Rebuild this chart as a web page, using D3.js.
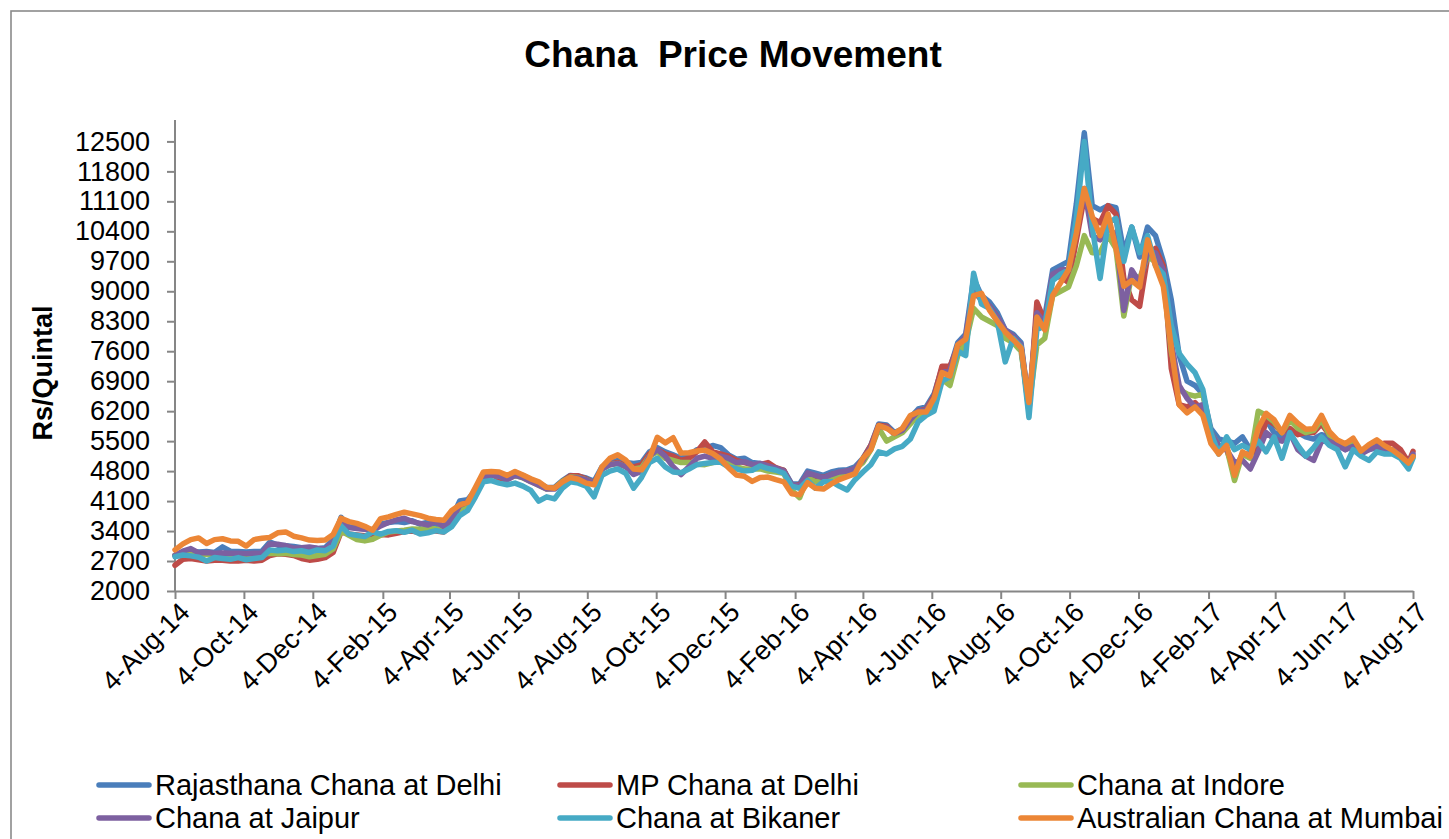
<!DOCTYPE html>
<html>
<head>
<meta charset="utf-8">
<script src="https://cdn.jsdelivr.net/npm/d3@7"></script>
<style>
  body { margin: 0; background: #fff; }
  svg { display: block; }
  text { font-family: "Liberation Sans", Arial, sans-serif; fill: #000; }
</style>
</head>
<body>
<svg id="chart" width="1449" height="839"></svg>
<script>
// ---------- DATA ----------
const seriesNames = ["Rajasthana Chana at Delhi", "MP Chana at Delhi", "Chana at Indore",
                     "Chana at Jaipur", "Chana at Bikaner", "Australian Chana at Mumbai"];
const seriesColors = ["#4A7EBB", "#BE4B48", "#98B954", "#7D60A0", "#46AAC5", "#EC8636"];

// weekly observations from 4-Aug-14, last one 4-Aug-17
const startDate = new Date(2014, 7, 4);
const endDate = new Date(2017, 7, 4);
const weeksCount = 157;

const xTickLabels = ["4-Aug-14","4-Oct-14","4-Dec-14","4-Feb-15","4-Apr-15","4-Jun-15","4-Aug-15",
  "4-Oct-15","4-Dec-15","4-Feb-16","4-Apr-16","4-Jun-16","4-Aug-16","4-Oct-16","4-Dec-16",
  "4-Feb-17","4-Apr-17","4-Jun-17","4-Aug-17"];
const yTicks = [2000,2700,3400,4100,4800,5500,6200,6900,7600,8300,9000,9700,10400,11100,11800,12500];

const rajasthanDelhi = [
  2840,2900,2920,2910,2920,2900,3030,2930,2920,2910,2920,2930,3140,3070,3060,3040,3010,3000,2990,3010,
  3200,3720,3500,3470,3450,3430,3560,3600,3620,3600,3640,3560,3610,3560,3520,3700,4100,4130,
  4350,4700,4760,4720,4650,4740,4700,4600,4520,4420,4420,4580,4700,4680,4640,4560,4900,5000,5050,5000,
  4980,5000,5250,5350,5250,5180,5100,5150,5300,5320,5400,5350,5180,5080,5100,5000,
  4980,4900,4850,4820,4500,4500,4800,4750,4700,4780,4820,4830,4900,5100,5400,5900,5880,5700,5780,6050,
  6250,6300,6600,7200,
  7200,7800,8000,9300,8900,8750,8500,8100,8000,7800,6300,8500,8400,9500,9600,9700,11050,12700,11000,10900,
  11000,10950,9900,10500,9800,10500,10300,9700,8800,7500,6900,6800,
  6600,5800,5550,5500,5450,5600,5300,5400,6000,5700,5600,5700,5700,5600,5550,5650,5600,5450,5300,5400,
  5250,5300,5350,5320,5250,5200,5050,5150];

const mpDelhi = [
  2600,2740,2760,2730,2700,2720,2720,2700,2700,2720,2700,2720,2830,2870,2860,2830,2760,2720,2740,2780,
  2900,3380,3330,3310,3290,3300,3320,3310,3350,3390,3400,3360,3420,3400,3380,3550,3960,4050,
  4380,4680,4740,4620,4600,4700,4680,4580,4500,4400,4400,4560,4690,4690,4620,4520,4860,4960,5000,4930,
  4900,4950,5200,5300,5200,5150,5050,5100,5250,5480,5250,5200,5150,5050,5000,4950,
  4950,5000,4880,4820,4450,4480,4700,4680,4650,4720,4750,4800,4850,5080,5400,5870,5850,5650,5720,6000,
  6200,6250,6550,7250,
  7250,7700,7900,9000,8800,8650,8400,8050,7950,7700,6200,8750,8300,9300,9350,9200,10200,11200,10700,10600,
  11000,10800,9300,8800,8650,9800,10000,9600,7200,6350,6300,6400,
  6200,5500,5350,5300,4800,5200,5200,5300,6000,5900,5700,5800,5650,5700,5700,5900,5650,5500,5350,5450,
  5250,5350,5400,5450,5450,5300,5000,5260];

const indore = [
  2830,2870,2900,2860,2850,2840,2850,2830,2840,2820,2850,2860,2880,2870,2880,2850,2840,2800,2830,2860,
  2980,3400,3300,3200,3170,3210,3300,3380,3400,3420,3450,3440,3470,3450,3440,3600,3900,4020,
  4350,4700,4720,4680,4620,4700,4640,4560,4470,4380,4400,4560,4660,4650,4600,4500,4850,4950,4980,4900,
  4850,4880,5150,5250,5100,5050,5000,5000,4960,4950,5000,5050,5000,4900,4850,4850,
  4850,4800,4780,4750,4350,4180,4650,4550,4580,4650,4700,4740,4850,5000,5300,5800,5500,5600,5700,5900,
  6100,6150,6400,6950,
  6800,7500,7800,8600,8400,8300,8200,7900,7800,7600,6300,7750,7900,8900,9000,9100,9600,10300,9900,9900,
  10300,10000,8420,9400,9300,9800,9700,9300,7600,6700,6600,6550,
  6600,5700,5400,5350,4580,5200,5100,6200,6100,5950,5700,6000,5800,5700,5750,6000,5650,5500,5400,5500,
  5250,5330,5380,5250,5280,5150,4900,5150];

const jaipur = [
  2830,2930,2990,2890,2900,2880,2890,2880,2880,2870,2880,2890,3100,3090,3060,3000,3010,3030,3000,2980,
  3150,3620,3480,3460,3440,3410,3520,3600,3660,3700,3620,3580,3540,3620,3500,3650,4000,4080,
  4300,4650,4700,4680,4600,4700,4650,4550,4470,4380,4380,4520,4650,4640,4600,4500,4850,4950,4980,4900,
  4720,4800,5150,5300,5150,4900,4720,4900,5100,5150,5100,5150,5100,5000,5020,4950,
  4980,4920,4870,4800,4480,4450,4760,4700,4640,4720,4780,4800,4860,5050,5350,5850,5820,5680,5750,6000,
  6200,6230,6500,7100,
  7150,7750,7950,9150,8850,8650,8400,8100,7950,7750,6350,8500,8250,9400,9500,9500,10400,11400,10300,10200,
  10500,10300,8550,9500,9200,9900,9900,9500,7800,6800,6500,6300,
  6350,5700,5400,5300,5000,5050,4850,5250,5700,5550,5500,5700,5300,5150,5050,5500,5500,5400,5300,5380,
  5200,5300,5380,5300,5300,5150,4950,5200];

const bikaner = [
  2800,2840,2820,2790,2700,2780,2760,2740,2780,2730,2760,2780,2960,2940,2960,2920,2940,2900,2960,2940,
  3050,3520,3330,3300,3270,3380,3330,3390,3410,3370,3420,3330,3360,3410,3380,3500,3760,3880,
  4200,4550,4580,4520,4480,4520,4450,4350,4100,4200,4150,4400,4550,4520,4450,4200,4700,4800,4850,4750,
  4400,4650,5000,5100,4900,4780,4760,4850,4950,4980,5000,5010,4900,4850,4800,4820,
  4920,4860,4820,4750,4450,4400,4580,4400,4550,4560,4450,4360,4600,4780,4950,5250,5200,5320,5380,5550,
  5950,6100,6200,6900,
  7000,7600,7500,9420,8700,8600,8300,7350,7900,7700,6050,8100,8200,9250,9400,9500,10700,12500,10500,9300,
  10600,10700,9700,10500,9900,10300,9600,9400,8200,7550,7300,7100,
  6700,5700,5200,5600,5300,5400,5300,5500,5250,5600,5100,5700,5400,5150,5350,5600,5400,5300,4900,5300,
  5150,5050,5250,5200,5200,5100,4850,5100];

const australianMumbai = [
  2960,3100,3200,3240,3110,3200,3220,3170,3160,3050,3200,3230,3250,3360,3380,3280,3240,3190,3180,3190,
  3320,3700,3620,3580,3510,3420,3690,3730,3790,3840,3800,3760,3700,3670,3650,3880,4010,4070,
  4420,4780,4790,4780,4700,4790,4710,4620,4550,4420,4400,4550,4650,4610,4520,4480,4900,5100,5180,5060,
  4850,4830,5100,5590,5460,5580,5220,5230,5270,5290,5210,5080,4880,4710,4680,4560,
  4650,4660,4600,4550,4270,4250,4530,4400,4380,4500,4600,4670,4740,5100,5300,5860,5800,5680,5800,6100,
  6180,6180,6500,7100,
  7020,7750,7880,8900,8950,8560,8300,8050,7870,7680,6400,8400,8100,8900,9200,9500,10360,11400,10750,10300,
  10800,10000,9120,9250,9100,10200,9600,9110,7700,6350,6160,6300,
  6100,5450,5200,5400,4700,5250,5140,5800,6150,6000,5700,6100,5920,5780,5790,6100,5720,5530,5440,5570,
  5270,5420,5530,5390,5290,5150,4990,5140];

// ---------- CHART ----------
const dates = d3.range(weeksCount).map(i => d3.timeDay.offset(startDate, 7 * i)).concat([endDate]);
const allSeries = [rajasthanDelhi, mpDelhi, indore, jaipur, bikaner, australianMumbai];

const svg = d3.select("#chart");
const W = 1449, H = 839;
const plot = { left: 175, right: 1413, top: 120, bottom: 591 };

svg.append("rect").attr("width", W).attr("height", H).attr("fill", "#fff");
// outer chart border (extends past right/bottom edge as in the source)
svg.append("rect").attr("x", 11).attr("y", 11).attr("width", 1450).attr("height", 840)
  .attr("fill", "none").attr("stroke", "#8a8a8a").attr("stroke-width", 1.6);

const x = d3.scaleTime().domain([startDate, endDate]).range([plot.left, plot.right]);
const y = d3.scaleLinear().domain([2000, 13000]).range([plot.bottom, plot.top]);

// title
svg.append("text").attr("x", 733).attr("y", 67).attr("text-anchor", "middle")
  .style("font-size", "37px").style("font-weight", "bold").style("white-space", "pre")
  .text("Chana  Price Movement");

// y axis title
svg.append("text").attr("transform", "translate(52,373) rotate(-90)").attr("text-anchor", "middle")
  .style("font-size", "27px").style("font-weight", "bold").text("Rs/Quintal");

// y axis
const yAxis = svg.append("g").attr("transform", `translate(${plot.left},0)`)
  .call(d3.axisLeft(y).tickValues(yTicks).tickSize(8).tickPadding(17).tickSizeOuter(0)
    .tickFormat(d3.format("d")));
yAxis.select(".domain").attr("stroke", "#868686").attr("stroke-width", 2)
  .attr("d", `M0,${plot.top}V${plot.bottom}`);
yAxis.selectAll(".tick line").attr("stroke", "#868686").attr("stroke-width", 2);
yAxis.selectAll(".tick text").style("font-size", "27px")
  .style("font-family", '"Liberation Sans", Arial, sans-serif').attr("fill", "#000");

// x axis
const parseTick = d3.timeParse("%d-%b-%y");
const xTickDates = xTickLabels.map(s => parseTick(s));
const xAxis = svg.append("g").attr("transform", `translate(0,${plot.bottom})`)
  .call(d3.axisBottom(x).tickValues(xTickDates).tickSize(8).tickSizeOuter(0)
    .tickFormat((d, i) => xTickLabels[i]));
xAxis.select(".domain").attr("stroke", "#868686").attr("stroke-width", 2);
xAxis.selectAll(".tick line").attr("stroke", "#868686").attr("stroke-width", 2);
xAxis.selectAll(".tick text")
  .style("font-size", "27px").style("font-family", '"Liberation Sans", Arial, sans-serif')
  .attr("fill", "#000").attr("text-anchor", "end")
  .attr("transform", "translate(2,9) rotate(-45)").attr("x", 0).attr("y", 0).attr("dy", "0.72em");

// series lines
const line = d3.line().x((d, i) => x(dates[i])).y(d => y(d));
allSeries.forEach((s, k) => {
  svg.append("path").datum(s).attr("d", line)
    .attr("fill", "none").attr("stroke", seriesColors[k]).attr("stroke-width", 5.5)
    .attr("stroke-linejoin", "round").attr("stroke-linecap", "round");
});

// legend
const legCols = [96, 557, 1018];
const legRows = [785, 818];
seriesNames.forEach((name, k) => {
  const lx = legCols[k % 3], ly = legRows[Math.floor(k / 3)];
  const g = svg.append("g");
  g.append("line").attr("x1", lx + 3).attr("x2", lx + 53).attr("y1", ly).attr("y2", ly)
    .attr("stroke", seriesColors[k]).attr("stroke-width", 5.5).attr("stroke-linecap", "round");
  g.append("text").attr("x", lx + 59).attr("y", ly).attr("dy", "0.36em")
    .style("font-size", "29px").text(name);
});
</script>
</body>
</html>
